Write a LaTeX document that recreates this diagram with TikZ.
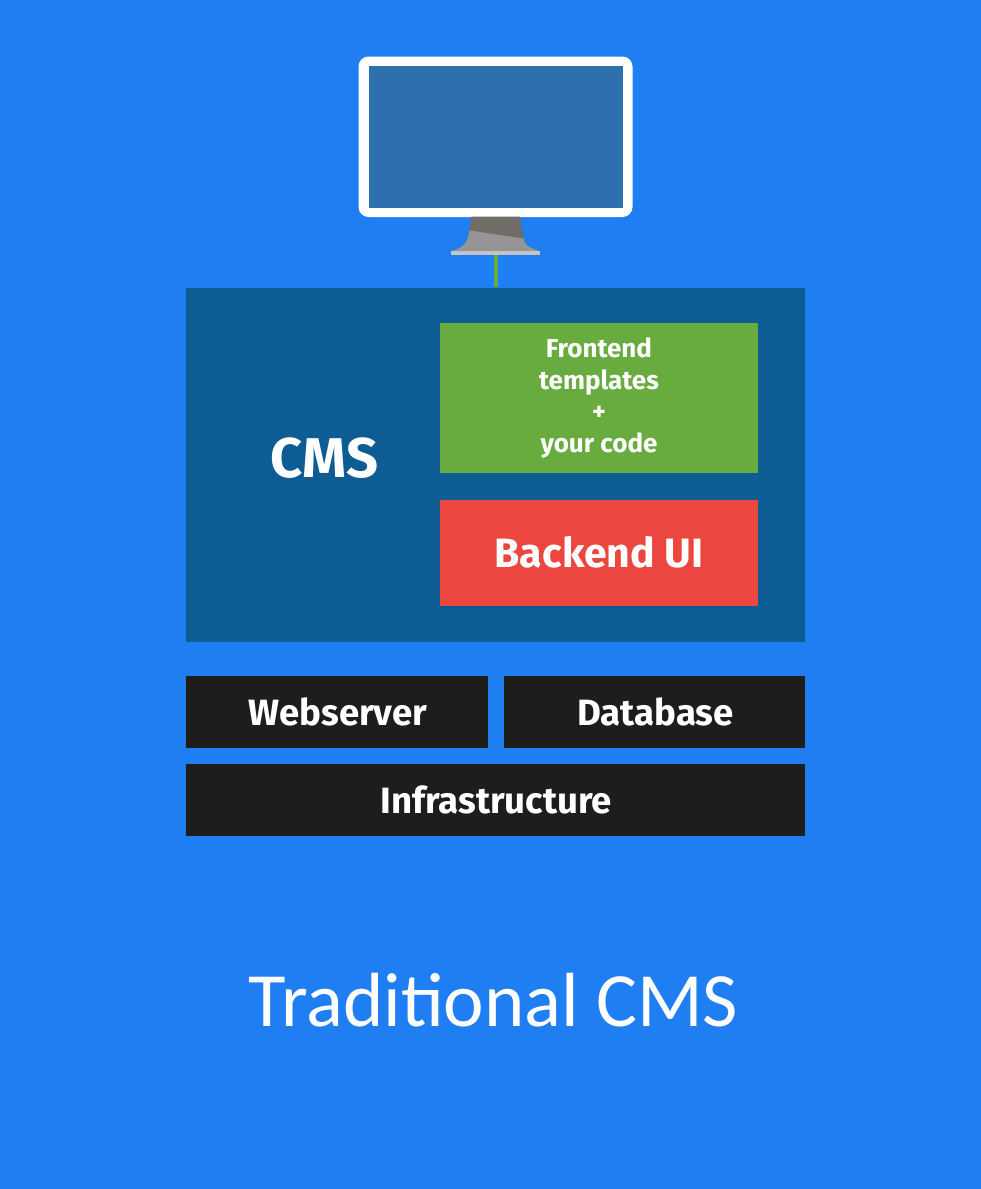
\documentclass[tikz,border=0pt]{standalone}
\usepackage{fontspec}
\setmainfont{Fira Sans}[BoldFont={Fira Sans Bold}]
\newfontfamily\titlefont{Carlito}[Ligatures=Common]
\definecolor{bgblue}{HTML}{1E7EF2}
\definecolor{cmsblue}{HTML}{0D5C94}
\definecolor{screenblue}{HTML}{2E6FAE}
\definecolor{fegreen}{HTML}{68AB3F}
\definecolor{bered}{HTML}{EB4640}
\definecolor{darkbox}{HTML}{1D1D1B}
\definecolor{standdark}{HTML}{706C68}
\definecolor{standlight}{HTML}{959595}
\definecolor{standbase}{HTML}{C4C4C4}
\tikzset{
  lbl/.style={text=white,inner sep=0pt,align=center},
  box/.style={text=white,inner sep=0pt,align=center},
  darkblock/.style={box,fill=darkbox,minimum height=72pt,font=\fontsize{36.6}{36.6}\selectfont\bfseries},
}
\begin{document}
\begin{tikzpicture}[x=1pt,y=-1pt]
\useasboundingbox (0,0) rectangle (981,1189);
\fill[bgblue] (0,0) rectangle (981,1189);
% cable
\coordinate (cabletop) at (495.5,255);
\coordinate (cablebot) at (495.5,287);
% monitor
\fill[white,rounded corners=10pt] (358.5,56.5) rectangle (632.5,217);
\fill[screenblue] (368.5,65.5) rectangle (622.5,208);
% stand
\fill[standdark] (471.5,216.5) -- (520,216.5) -- (523,236) -- (526,243) -- (466,243) -- (468.5,235) -- cycle;
\fill[standlight] (469.5,230.5) -- (523.5,238.5) .. controls (524.5,245) and (528,247) .. (539,251) -- (452,251) .. controls (463,247) and (467,245) .. (469.5,230.5) -- cycle;
\fill[standbase] (451,251) -- (539.5,251) -- (539.5,255) -- (451,255) -- cycle;
% CMS
\node[fill=cmsblue,minimum width=619pt,minimum height=354pt,inner sep=0pt] (cms) at (495.5,464.5) {};
\draw[fegreen,line width=4pt] (cabletop) -- (cablebot);
\node[lbl,font=\fontsize{56}{56}\selectfont\bfseries] (cmslabel) at (324.5,458) {CMS};
\node[box,fill=fegreen,minimum width=318pt,minimum height=150pt,font=\fontsize{26}{31.7}\selectfont\bfseries] (frontend) at (599,398) {Frontend\\templates\\+\\your code};
\node[box,fill=bered,minimum width=318pt,minimum height=106pt,font=\fontsize{41}{41}\selectfont\bfseries] (backend) at (599,552.5) {Backend UI};
\node[darkblock,minimum width=301.5pt] (web) at (337,712) {\hspace*{2pt}Webserver};
\node[darkblock,minimum width=301.5pt] (db) at (654.5,712) {\hspace*{2pt}Database};
\node[darkblock,minimum width=619pt] (infra) at (495.5,800) {\hspace*{1.5pt}Infrastructure};
\node[text=white,inner sep=0pt,font=\titlefont\fontsize{76.8}{76.8}\selectfont] (title) at (493.5,1000) {Traditional CMS};
\end{tikzpicture}
\end{document}
